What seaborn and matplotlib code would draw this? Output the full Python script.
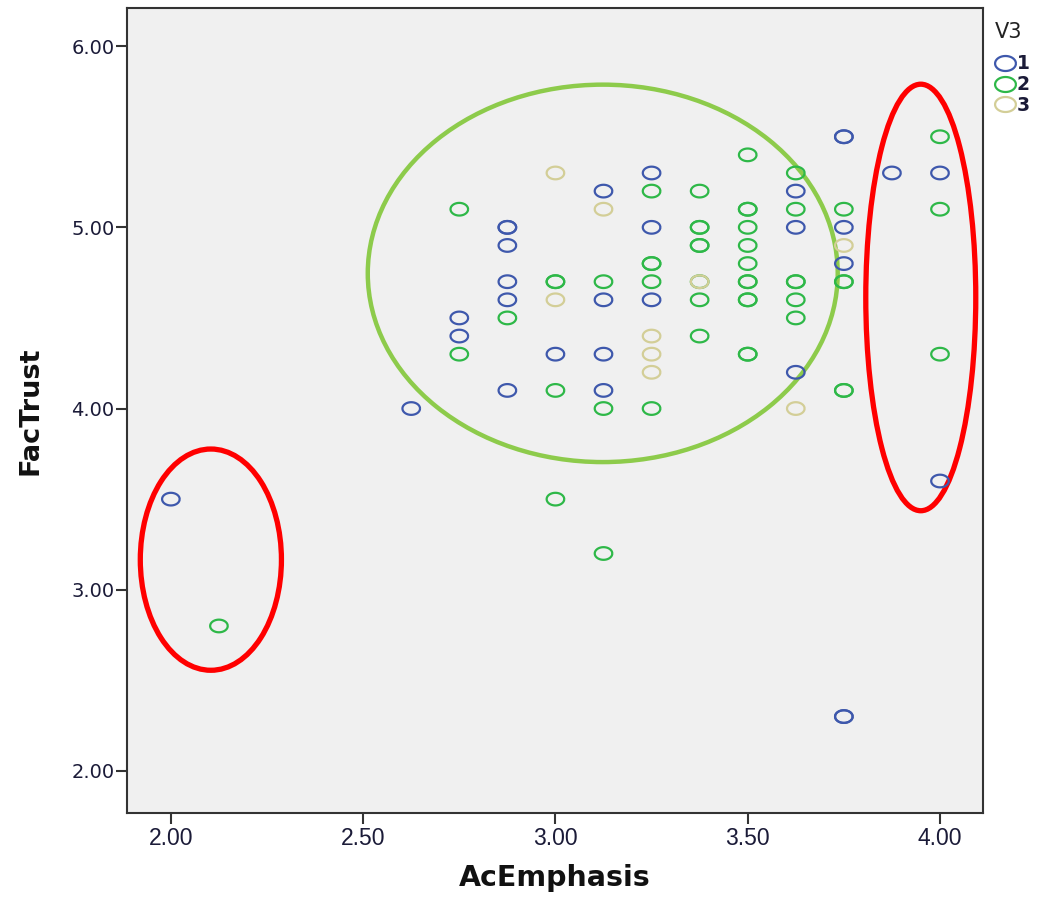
import numpy as np
import pandas as pd
import matplotlib
matplotlib.use("Agg")
import matplotlib.pyplot as plt
import seaborn as sns
from matplotlib.patches import Ellipse
from matplotlib.lines import Line2D

# ---- data ----
blue_x = [2.000, 2.625, 2.75, 2.75, 2.875, 2.875, 2.875, 2.875, 2.875, 2.875,
          3.0, 3.125, 3.125, 3.125, 3.125, 3.25, 3.25, 3.25,
          3.625, 3.625, 3.625, 3.75, 3.75, 3.75, 3.75, 3.75, 3.75,
          3.875, 4.0, 4.0]
blue_y = [3.5, 4.0, 4.5, 4.4, 5.0, 5.0, 4.9, 4.7, 4.6, 4.1,
          4.3, 5.2, 4.6, 4.3, 4.1, 5.3, 5.0, 4.6,
          5.2, 5.0, 4.2, 5.5, 5.5, 5.0, 4.8, 2.3, 2.3,
          5.3, 5.3, 3.6]

green_x = [2.125, 2.75, 2.75, 2.875, 3.0, 3.0, 3.0, 3.0,
           3.125, 3.125, 3.125, 3.25, 3.25, 3.25, 3.25, 3.25,
           3.375, 3.375, 3.375, 3.375, 3.375, 3.375, 3.375, 3.375,
           3.5, 3.5, 3.5, 3.5, 3.5, 3.5, 3.5, 3.5, 3.5, 3.5, 3.5, 3.5,
           3.625, 3.625, 3.625, 3.625, 3.625, 3.625,
           3.75, 3.75, 3.75, 3.75, 3.75,
           4.0, 4.0, 4.0]
green_y = [2.8, 5.1, 4.3, 4.5, 4.7, 4.7, 4.1, 3.5,
           4.7, 4.0, 3.2, 5.2, 4.8, 4.8, 4.7, 4.0,
           5.2, 5.0, 5.0, 4.9, 4.9, 4.7, 4.6, 4.4,
           5.4, 5.1, 5.1, 5.0, 4.9, 4.8, 4.7, 4.7, 4.6, 4.6, 4.3, 4.3,
           5.3, 5.1, 4.7, 4.7, 4.6, 4.5,
           5.1, 4.7, 4.7, 4.1, 4.1,
           5.5, 5.1, 4.3]

tan_x = [3.0, 3.0, 3.125, 3.25, 3.25, 3.25, 3.375, 3.625, 3.75]
tan_y = [5.3, 4.6, 5.1, 4.4, 4.3, 4.2, 4.7, 4.0, 4.9]

groups = ["1", "2", "3"]
group_colors = ["#3E58AC", "#2EB848", "#D3CE97"]

x_ticks = [2.00, 2.50, 3.00, 3.50, 4.00]
y_ticks = [2.00, 3.00, 4.00, 5.00, 6.00]

df = pd.DataFrame({
    "AcEmphasis": blue_x + green_x + tan_x,
    "FacTrust": blue_y + green_y + tan_y,
    "V3": ["1"] * len(blue_x) + ["2"] * len(green_x) + ["3"] * len(tan_x),
})

# ---- figure ----
sns.set_style("white")
fig = plt.figure(figsize=(10.37, 8.99), dpi=100)
ax = fig.add_axes([0.1225, 0.0957, 0.8255, 0.8953])
ax.set_facecolor("#f0f0f0")

t = np.linspace(0, 2 * np.pi, 60)
oval = list(zip(np.cos(t), 0.72 * np.sin(t)))

sns.scatterplot(data=df, x="AcEmphasis", y="FacTrust", hue="V3",
                hue_order=groups, palette=group_colors, marker=oval,
                s=160, linewidth=1.6, ax=ax, legend=False, zorder=3)
coll = ax.collections[0]
fc = coll.get_facecolors()
coll.set_edgecolors(fc)
coll.set_facecolors("none")

# annotation ellipses
ax.add_patch(Ellipse((3.123, 4.746), 1.222, 2.083, fill=False,
                     edgecolor="#8DCB4B", linewidth=3.2, zorder=2))
ax.add_patch(Ellipse((2.104, 3.166), 0.367, 1.221, fill=False,
                     edgecolor="#FF0000", linewidth=3.8, zorder=2))
ax.add_patch(Ellipse((3.950, 4.613), 0.286, 2.354, fill=False,
                     edgecolor="#FF0000", linewidth=3.8, zorder=2))

ax.set_xlim(1.886, 4.112)
ax.set_ylim(1.768, 6.21)
ax.set_xticks(x_ticks)
ax.set_yticks(y_ticks)
label_color = "#1b1b38"
ax.set_xticklabels([f"{v:.2f}" for v in x_ticks],
                   fontfamily="Liberation Sans", fontsize=16.5,
                   color=label_color)
ax.set_yticklabels([f"{v:.2f}" for v in y_ticks], fontfamily="DejaVu Sans",
                   fontsize=14, color=label_color)
ax.tick_params(axis="both", direction="out", length=8, width=1.5,
               color="#333333", bottom=True, left=True)
ax.tick_params(axis="x", pad=2)
ax.tick_params(axis="y", pad=1)
for side, sp in ax.spines.items():
    sp.set_color("#333333")
    sp.set_linewidth(1.5)

ax.set_xlabel("AcEmphasis", fontsize=20.5, fontweight="bold",
              fontfamily="DejaVu Sans", labelpad=10, color="#111111")
ax.set_ylabel("FacTrust", fontsize=19.5, fontweight="bold",
              fontfamily="DejaVu Sans", labelpad=20, color="#111111")

handles = [Line2D([], [], linestyle="", marker=oval, markersize=15,
                  markerfacecolor="none", markeredgecolor=c,
                  markeredgewidth=1.6) for c in group_colors]
leg = ax.legend(handles, groups, title="V3", loc="upper left",
                bbox_to_anchor=(1.001, 0.997), frameon=False,
                prop={"size": 13.5, "weight": "bold"},
                title_fontsize=15, handlelength=1.0, handletextpad=0.15,
                labelspacing=0.1, borderaxespad=0.2)
leg._legend_box.align = "left"
leg._legend_box.sep = 9
for txt in leg.get_texts():
    txt.set_color(label_color)
leg.get_title().set_color("#222222")

fig.savefig("out.png", dpi=100)
